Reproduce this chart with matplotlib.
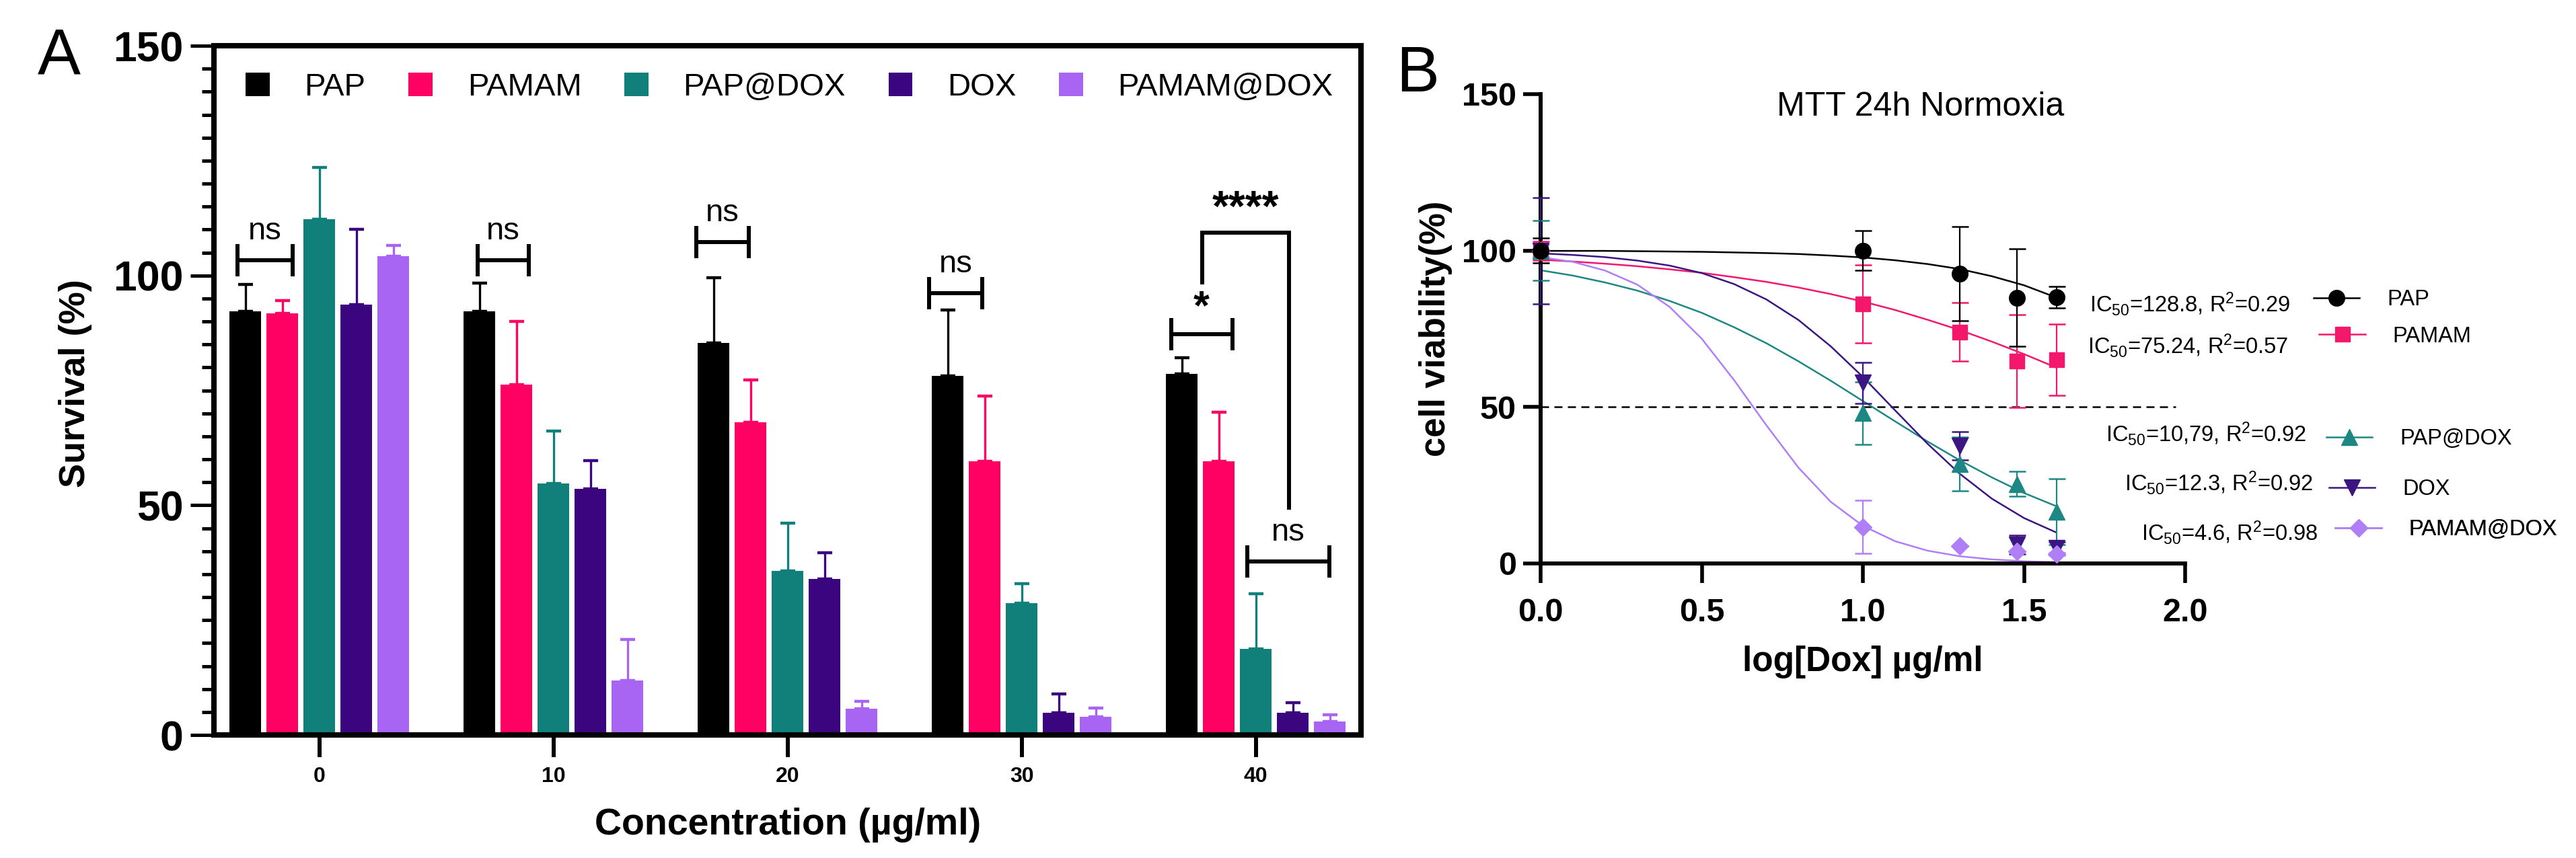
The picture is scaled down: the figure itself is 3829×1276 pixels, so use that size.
import numpy as np
import matplotlib
matplotlib.use('Agg')
import matplotlib.pyplot as plt
from matplotlib.lines import Line2D
from matplotlib.ticker import MultipleLocator

plt.rcParams['font.family'] = ['Liberation Sans', 'DejaVu Sans']
plt.rcParams['mathtext.fontset'] = 'custom'
plt.rcParams['mathtext.rm'] = 'Liberation Sans'
plt.rcParams['mathtext.it'] = 'Liberation Sans:italic'
plt.rcParams['mathtext.bf'] = 'Liberation Sans:bold'

# ---------------- panel A: survival bars ----------------
series = ['PAP', 'PAMAM', 'PAP@DOX', 'DOX', 'PAMAM@DOX']
conc_labels = ['0', '10', '20', '30', '40']

surv_pap = [92.2, 92.2, 85.3, 78.2, 78.6]
surv_pamam = [91.8, 76.2, 68.0, 59.5, 59.5]
surv_papdox = [112.2, 54.8, 35.7, 28.7, 18.7]
surv_dox = [93.6, 53.6, 34.0, 4.8, 4.8]
surv_pamamdox = [104.2, 11.9, 5.7, 4.0, 2.9]

sd_pap = [5.8, 6.1, 14.2, 14.3, 3.5]
sd_pamam = [2.7, 13.8, 9.3, 14.2, 10.7]
sd_papdox = [11.3, 11.3, 10.4, 4.3, 12.0]
sd_dox = [16.4, 6.1, 5.7, 4.1, 2.2]
sd_pamamdox = [2.4, 8.9, 1.6, 1.9, 1.5]

# significance brackets (x in group units, y in %)
sig_left = [-0.351, 0.675, 1.609, 2.603, 3.638, 3.964]
sig_right = [-0.113, 0.895, 1.835, 2.832, 3.899, 4.313]
sig_y = [103.3, 103.3, 107.3, 96.1, 87.2, 37.8]
sig_text = ['ns', 'ns', 'ns', 'ns', '*', 'ns']
star4_x = [3.772, 4.142]
star4_top = 109.3
star4_ends = [98.5, 49.5]

colors_a = ['#000000', '#ff0063', '#12807a', '#3c0580', '#a865f4']

# ---------------- panel B: dose response ----------------
log_dose = [0.0, 1.0, 1.301, 1.477, 1.602]

via_pap = [100, 100, 92.6, 84.9, 85.1]
via_pamam = [100, 83.0, 74.0, 64.7, 65.1]
via_papdox = [100, 48.1, 31.8, 25.4, 16.6]
via_dox = [100, 57.7, 37.6, 6.1, 4.9]
via_pamamdox = [100, 11.7, 5.6, 3.8, 3.0]

err_pap = [4, 6.4, 15.0, 15.6, 3.4]
err_pamam = [3, 12.5, 9.4, 14.8, 11.4]
err_papdox = [9.5, 10.0, 8.6, 4.0, 10.5]
err_dox = [17, 6.5, 4.5, 3.0, 2.0]
err_pamamdox = [2, 8.4, 0, 0, 0.5]

# fitted curves
fit_x = [0.0, 0.1, 0.2, 0.3, 0.4, 0.5, 0.6, 0.7, 0.8, 0.9,
         1.0, 1.1, 1.2, 1.3, 1.4, 1.5, 1.6]
fit_pap = [99.9, 99.9, 99.9, 99.8, 99.7, 99.6, 99.4, 99.2, 98.9, 98.4,
           97.8, 96.9, 95.7, 94.1, 91.8, 88.9, 85.0]
fit_pamam = [97.1, 96.5, 95.8, 95.0, 94.0, 92.9, 91.5, 90.0, 88.2, 86.1,
             83.7, 81.0, 77.9, 74.6, 70.9, 66.9, 62.6]
fit_papdox = [93.7, 92.0, 89.8, 87.2, 83.9, 80.1, 75.5, 70.4, 64.6, 58.4,
              51.9, 45.4, 39.0, 33.0, 27.5, 22.5, 18.3]
fit_dox = [99.1, 98.6, 97.9, 96.8, 95.2, 92.8, 89.3, 84.4, 77.8, 69.4,
           59.6, 48.9, 38.3, 28.7, 20.7, 14.5, 9.9]
fit_pamamdox = [97.9, 96.4, 93.6, 89.1, 82.0, 71.8, 58.6, 44.2, 30.6, 19.7,
                12.0, 7.1, 4.1, 2.3, 1.3, 0.7, 0.4]

fit_notes = ['IC$_{50}$=128.8, R$^{2}$=0.29', 'IC$_{50}$=75.24, R$^{2}$=0.57',
             'IC$_{50}$=10,79, R$^{2}$=0.92', 'IC$_{50}$=12.3, R$^{2}$=0.92',
             'IC$_{50}$=4.6, R$^{2}$=0.98']

colors_b = ['#000000', '#f3186c', '#1d8883', '#3b1682', '#b07ef6']
markers_b = ['o', 's', '^', 'v', 'D']
msizes_b = [17, 16, 17, 17, 13]

# ================= figure =================
fig = plt.figure(figsize=(38.29, 12.76), dpi=100)
fig.patch.set_facecolor('white')

# ---- A ----
axA = fig.add_axes([0.0831, 0.1434, 0.4453, 0.8033])
xg = np.arange(len(conc_labels))
step, width = 0.158, 0.135
means_a = [surv_pap, surv_pamam, surv_papdox, surv_dox, surv_pamamdox]
sds_a = [sd_pap, sd_pamam, sd_papdox, sd_dox, sd_pamamdox]
for i, (name, m, e, c) in enumerate(zip(series, means_a, sds_a, colors_a)):
    xs = xg + (i - 2) * step
    axA.bar(xs, m, width, color=c, label=name, zorder=2)
    axA.errorbar(xs, m, yerr=[np.zeros(len(e)), e], fmt='none', ecolor=c,
                 elinewidth=2.4, capsize=8, capthick=3.2, zorder=1)

for l, r, y, t in zip(sig_left, sig_right, sig_y, sig_text):
    axA.plot([l, r], [y, y], color='k', lw=4.3, solid_capstyle='butt')
    axA.plot([l, l], [y - 3.5, y + 3.5], color='k', lw=4.3, solid_capstyle='butt')
    axA.plot([r, r], [y - 3.5, y + 3.5], color='k', lw=4.3, solid_capstyle='butt')
    if t == 'ns':
        axA.text((l + r) / 2, y + 6.3, t, ha='center', va='center', fontsize=34)
    else:
        axA.text((l + r) / 2, y + 5.7, t, ha='center', va='center', fontsize=44,
                 fontweight='bold')

axA.plot([star4_x[0], star4_x[0], star4_x[1], star4_x[1]],
         [star4_ends[0], star4_top, star4_top, star4_ends[1]],
         color='k', lw=4.3, solid_joinstyle='miter')
axA.text(sum(star4_x) / 2, star4_top + 5.0, '****', ha='center', va='center',
         fontsize=46, fontweight='bold')

axA.set_xlim(-0.45, 4.45)
axA.set_ylim(0, 150)
axA.set_xticks(xg)
axA.set_xticklabels(conc_labels)
axA.set_yticks([0, 50, 100, 150])
axA.yaxis.set_minor_locator(MultipleLocator(5))
axA.tick_params(axis='y', which='major', length=25, width=3.6, labelsize=45, pad=8)
axA.tick_params(axis='y', which='minor', length=13, width=3.6)
axA.tick_params(axis='x', which='major', length=24, width=4.3, labelsize=23, pad=10)
for lbl in axA.get_xticklabels() + axA.get_yticklabels():
    lbl.set_fontweight('bold')
for sp in axA.spines.values():
    sp.set_linewidth(5.8)

axA.set_xlabel('Concentration (µg/ml)', fontsize=40, fontweight='bold')
axA.xaxis.set_label_coords(0.5, -0.105)
axA.set_ylabel('Survival (%)', fontsize=39, fontweight='bold')
axA.yaxis.set_label_coords(-0.106, 0.51)

axA.legend(loc='center left', bbox_to_anchor=(0.0276, 0.9395), ncol=5,
           frameon=False, fontsize=34, handlelength=0.75, handleheight=0.75,
           handletextpad=1.1, columnspacing=1.35, borderpad=0, borderaxespad=0)

# ---- B ----
axB = fig.add_axes([0.5981, 0.3433, 0.2502, 0.547])
means_b = [via_pap, via_pamam, via_papdox, via_dox, via_pamamdox]
errs_b = [err_pap, err_pamam, err_papdox, err_dox, err_pamamdox]
fits_b = [fit_pap, fit_pamam, fit_papdox, fit_dox, fit_pamamdox]

axB.plot([0, 1.97], [50, 50], color='k', lw=1.8, ls=(0, (4.8, 3.2)), zorder=1)
order = [1, 2, 3, 4, 0]
for i in order:
    c = colors_b[i]
    axB.plot(fit_x, fits_b[i], color=c, lw=1.8, zorder=2)
    cont = axB.errorbar(log_dose, means_b[i], yerr=errs_b[i], fmt=markers_b[i],
                        color=c, ms=msizes_b[i], elinewidth=1.6, capsize=9,
                        capthick=1.8, zorder=3)
    for art in cont.get_children():
        art.set_clip_on(False)

axB.set_xlim(0, 2)
axB.set_ylim(0, 150)
axB.set_xticks([0, 0.5, 1.0, 1.5, 2.0])
axB.set_xticklabels(['0.0', '0.5', '1.0', '1.5', '2.0'])
axB.set_yticks([0, 50, 100, 150])
axB.spines['top'].set_visible(False)
axB.spines['right'].set_visible(False)
axB.spines['left'].set_linewidth(4.3)
axB.spines['bottom'].set_linewidth(4.3)
axB.tick_params(axis='y', length=19, width=4, labelsize=35, pad=7)
axB.tick_params(axis='x', length=21, width=4, labelsize=35, pad=16)
for lbl in axB.get_xticklabels() + axB.get_yticklabels():
    lbl.set_fontweight('bold')

axB.set_xlabel('log[Dox] µg/ml', fontsize=37, fontweight='bold')
axB.xaxis.set_label_coords(0.5, -0.175)
axB.set_ylabel('cell viability(%)', fontsize=38, fontweight='bold')
axB.yaxis.set_label_coords(-0.137, 0.5)

axB.text(0.366, 0.973, 'MTT 24h Normoxia', transform=axB.transAxes,
         fontsize=36, ha='left', va='center')

note_x = [0.852, 0.849, 0.877, 0.906, 0.932]
note_y = [0.553, 0.464, 0.277, 0.172, 0.066]
for txt, nx, ny in zip(fit_notes, note_x, note_y):
    axB.text(nx, ny, txt, transform=axB.transAxes, fontsize=23.5,
             ha='left', va='center')

leg_x = [1.199, 1.208, 1.219, 1.223, 1.233]
leg_y = [0.562, 0.484, 0.265, 0.158, 0.072]
for i, name in enumerate(series):
    h = Line2D([], [], color=colors_b[i], marker=markers_b[i],
               ms=msizes_b[i], lw=1.8)
    lg = axB.legend([h], [name], loc='center left',
                    bbox_to_anchor=(leg_x[i], leg_y[i]),
                    bbox_transform=axB.transAxes, frameon=False,
                    fontsize=23.5, handlelength=2.1, handletextpad=1.25,
                    borderpad=0, borderaxespad=0)
    axB.add_artist(lg)

fig.text(88 / 3829, 1 - 85 / 1276, 'A', fontsize=69, ha='center', va='center')
fig.text(2107 / 3829, 1 - 111 / 1276, 'B', fontsize=69, ha='center', va='center')

fig.savefig('out.png', dpi=100, facecolor='white')
